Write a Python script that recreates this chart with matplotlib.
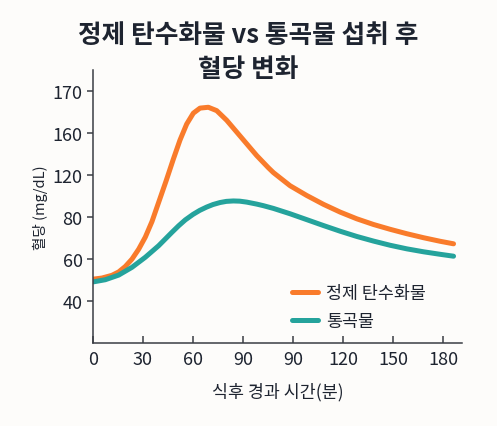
import matplotlib.pyplot as plt
import numpy as np

plt.rcParams['font.family'] = ['Noto Sans CJK KR', 'DejaVu Sans']

# tick labels as printed on the chart (x has 90 twice, y is not evenly spaced)
x_tick_pos = [0, 30, 60, 90, 120, 150, 180, 210]
x_tick_labels = ["0", "30", "60", "90", "90", "120", "150", "180"]
y_tick_labels = [40, 60, 80, 120, 160, 170]

# readings (x in tick-position units, y in mg/dL)
refined_x = [0.4, 5.4, 11.4, 15.4, 19.4, 23.4, 27.4, 31.4, 35.4, 39.6, 43.8, 48.2,
             52.2, 56.2, 60.2, 64.2, 69.2, 74.2, 80.2, 86.2, 92.2, 98.2, 105.2,
             108.2, 118.2, 128.2, 138.2, 148.2, 158.2, 168.2, 178.2, 188.2, 198.2,
             208.2, 216.2]
refined_y = [50.6, 51.1, 52.4, 54.0, 56.6, 60.1, 64.8, 70.6, 78.0, 95.2, 114.4, 135.4,
             153.6, 162.2, 164.8, 166.0, 166.2, 165.4, 163.1, 160.3, 150.0, 138.8, 127.2,
             122.6, 110.1, 100.8, 92.4, 85.0, 79.3, 76.6, 74.3, 72.2, 70.3, 68.6, 67.4]

whole_x = [0.4, 7.4, 15.4, 23.4, 31.4, 39.4, 47.4, 51.4, 55.4, 60.0, 64.0, 68.2,
           72.0, 76.2, 80.0, 84.2, 88.0, 92.2, 98.2, 102.2, 108.2, 118.2, 128.2,
           138.2, 148.2, 158.2, 168.2, 178.2, 188.2, 198.2, 208.2, 216.2]
whole_y = [49.3, 50.3, 52.5, 56.2, 61.0, 66.5, 72.9, 76.0, 78.8, 82.8, 86.6, 89.8,
           92.2, 94.1, 95.2, 95.6, 95.4, 94.5, 92.6, 91.1, 88.5, 83.4, 78.9, 76.1,
           73.4, 70.9, 68.7, 66.7, 65.0, 63.6, 62.4, 61.5]

labels = ["정제 탄수화물", "통곡물"]
colors = ["#F97B2B", "#25A39C"]

# the y axis labels are evenly spaced on the page, so map them through a piecewise scale
y_breaks = [20, 40, 60, 80, 120, 160, 170, 180]
y_steps = [-1, 0, 1, 2, 3, 4, 5, 6]


def fwd(v):
    return np.interp(v, y_breaks, y_steps)


def inv(p):
    return np.interp(p, y_steps, y_breaks)


text_color = "#1E2430"
axis_color = "#3A3D44"
bg = "#FDFCFA"

fig = plt.figure(figsize=(4.97, 4.27), dpi=100, facecolor=bg)
ax = fig.add_axes([0.187, 0.194, 0.743, 0.64])
ax.set_facecolor(bg)
ax.set_yscale('function', functions=(fwd, inv))

ax.plot(refined_x, refined_y, color=colors[0], lw=3.6, solid_capstyle='round',
        solid_joinstyle='round', label=labels[0])
ax.plot(whole_x, whole_y, color=colors[1], lw=3.6, solid_capstyle='round',
        solid_joinstyle='round', label=labels[1])

ax.set_xlim(0, 221.4)
ax.set_ylim(20.1, 175.1)

ax.set_xticks(x_tick_pos)
ax.set_xticklabels(x_tick_labels)
ax.set_yticks(y_tick_labels)
ax.set_yticklabels([str(v) for v in y_tick_labels])
ax.minorticks_off()

for s in ["top", "right"]:
    ax.spines[s].set_visible(False)
for s in ["left", "bottom"]:
    ax.spines[s].set_color(axis_color)
    ax.spines[s].set_linewidth(1.1)

ax.tick_params(axis='x', direction='in', length=5, width=1.1, color=axis_color,
               labelsize=13, labelcolor=text_color, pad=5)
ax.tick_params(axis='y', direction='out', length=4.5, width=1.1, color=axis_color,
               labelsize=13, labelcolor=text_color, pad=3)
for t in ax.get_xticklabels() + ax.get_yticklabels():
    t.set_fontweight('medium')

ax.set_xlabel("식후 경과 시간(분)", fontsize=12.5, fontweight='medium',
              color=text_color, labelpad=10)
ax.set_ylabel("혈당 (mg/dL)", fontsize=10.5, fontweight='medium',
              color=text_color, labelpad=3)

fig.suptitle("정제 탄수화물 vs 통곡물 섭취 후\n혈당 변화", fontsize=18.5,
             fontweight='bold', color=text_color, y=0.948, va='top',
             linespacing=1.3)

leg = ax.legend(loc='center left', bbox_to_anchor=(0.54, 0.132), frameon=False,
                fontsize=12.5, handlelength=1.5, handletextpad=0.45,
                labelspacing=0.6, borderpad=0, borderaxespad=0)
for t in leg.get_texts():
    t.set_color(text_color)
    t.set_fontweight('medium')

fig.savefig("out.png", dpi=100, facecolor=bg)
